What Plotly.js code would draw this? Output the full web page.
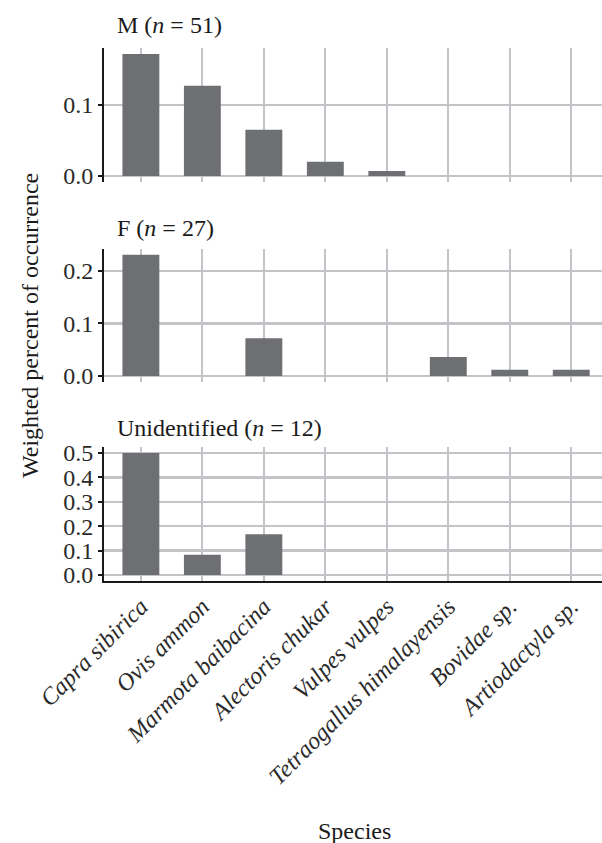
<!DOCTYPE html>
<html><head><meta charset="utf-8">
<script src="https://cdn.plot.ly/plotly-3.0.1.min.js"></script>
<style>body{margin:0;background:#fff}#chart{width:602px;height:843px}</style>
</head><body><div id="chart"></div>
<script>
const species = ["Capra sibirica","Ovis ammon","Marmota baibacina","Alectoris chukar","Vulpes vulpes","Tetraogallus himalayensis","Bovidae sp.","Artiodactyla sp."];
const valuesM = [0.172, 0.127, 0.065, 0.020, 0.007, 0, 0, 0];
const valuesF = [0.231, 0, 0.072, 0, 0, 0.036, 0.012, 0.012];
const valuesU = [0.5, 0.083, 0.167, 0, 0, 0, 0, 0];
const panelTitles = ["M (<i>n</i> = 51)", "F (<i>n</i> = 27)", "Unidentified (<i>n</i> = 12)"];
const yTicks = [[0, 0.1], [0, 0.1, 0.2], [0, 0.1, 0.2, 0.3, 0.4, 0.5]];

const FONT = "Liberation Serif";
const GRID = "#c4c4c8";
const BAR = "#6e6f73";
const FS = 24;
const series = [valuesM, valuesF, valuesU];
const domains = [[1-182/843, 1-47.8/843],[1-382/843, 1-248.6/843],[1-581/843, 1-447/843]];
const titleY = [25, 227.5, 428];

const traces = [], layout = {
  width: 602, height: 843, margin: {l: 104, r: 0, t: 0, b: 0},
  paper_bgcolor: "#fff", plot_bgcolor: "#fff", showlegend: false, bargap: 0.4,
  font: {family: FONT, size: FS, color: "#1a1a1a"}, annotations: []
};
series.forEach((vals, i) => {
  const n = i + 1, xs = n === 1 ? "x" : "x" + n, ys = n === 1 ? "y" : "y" + n;
  traces.push({type: "bar", x: species, y: vals, xaxis: xs, yaxis: ys,
    marker: {color: BAR, line: {width: 0}}, hoverinfo: "x+y"});
  const mx = Math.max(...vals);
  layout["xaxis" + (n === 1 ? "" : n)] = {
    anchor: ys, domain: [0, 1], type: "category", range: [-0.6, 7.5],
    showgrid: true, gridcolor: GRID, gridwidth: 2.2, zeroline: false,
    showline: n === 3, linecolor: "#1a1a1a", linewidth: 2,
    showticklabels: n === 3, ticks: "", tickangle: -45,
    tickfont: {family: FONT, size: FS, style: "italic", color: "#2a2a2a"},
    fixedrange: true
  };
  layout["yaxis" + (n === 1 ? "" : n)] = {
    anchor: xs, domain: domains[i], range: [-0.05*mx, 1.05*mx],
    tickvals: yTicks[i], ticktext: yTicks[i].map(v => v.toFixed(1)),
    showgrid: true, gridcolor: GRID, gridwidth: 2.2, zeroline: false,
    showline: true, linecolor: "#1a1a1a", linewidth: 2,
    ticks: "outside", ticklen: 4, tickwidth: 2, tickcolor: "#1a1a1a",
    tickfont: {family: FONT, size: FS, color: "#2a2a2a"}, fixedrange: true
  };
  layout.annotations.push({text: panelTitles[i], xref: "paper", yref: "paper",
    x: (115-104)/498, y: 1-titleY[i]/843, xanchor: "left", yanchor: "middle",
    showarrow: false, font: {family: FONT, size: FS, color: "#1a1a1a"}});
});
layout.annotations.push({text: "Weighted percent of occurrence", xref: "paper", yref: "paper",
  x: (30-104)/498, y: 1-326/843, textangle: -90, showarrow: false, xanchor: "center", yanchor: "middle",
  font: {family: FONT, size: FS, color: "#1a1a1a"}});
layout.annotations.push({text: "Species", xref: "paper", yref: "paper",
  x: (354-104)/498, y: 1-831/843, showarrow: false, xanchor: "center", yanchor: "middle",
  font: {family: FONT, size: FS, color: "#1a1a1a"}});
Plotly.newPlot("chart", traces, layout, {displayModeBar: false, staticPlot: true});
</script></body></html>
